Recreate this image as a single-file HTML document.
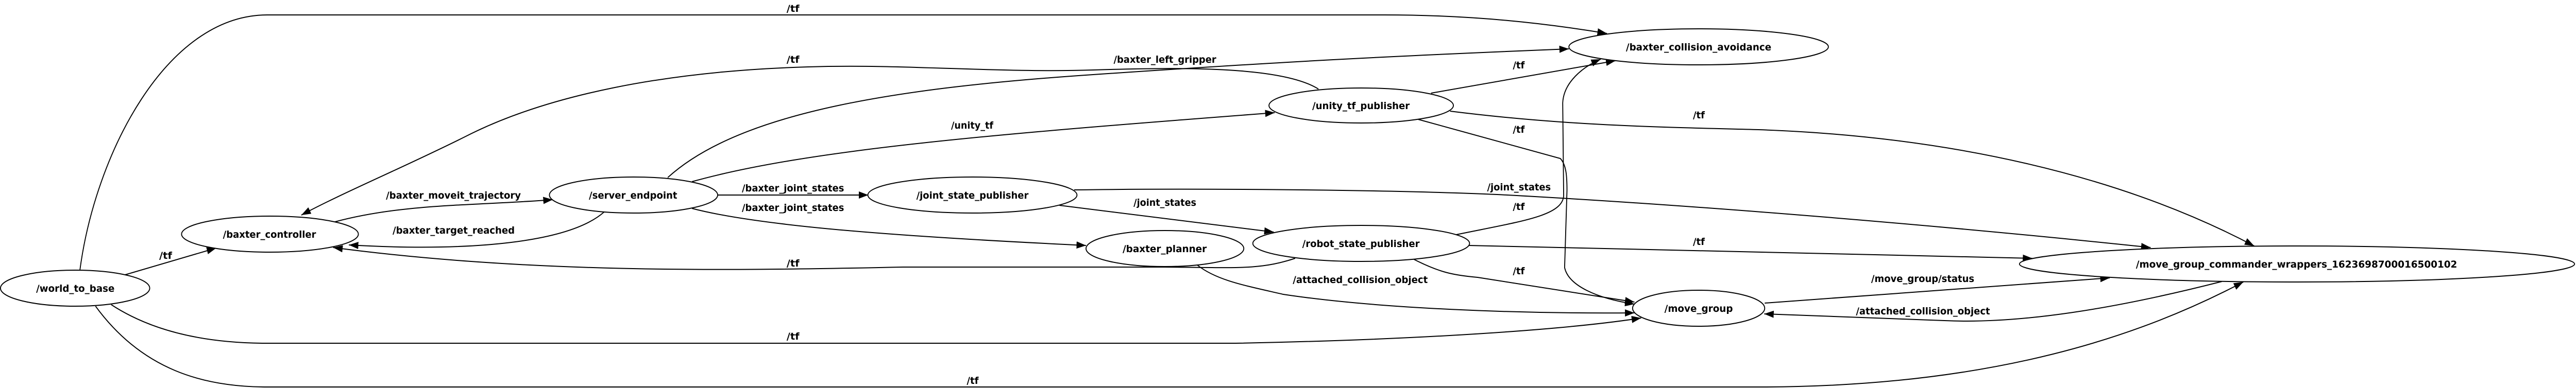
<!DOCTYPE html>
<html><head><meta charset="utf-8"><style>
html,body{margin:0;padding:0;background:#fff;overflow:hidden;width:100%;height:100%;}
svg{display:block;position:absolute;left:0;top:0;width:100vw;height:100vh;}
text{font-family:"DejaVu Sans","Liberation Sans",sans-serif;font-weight:bold;font-size:19px;fill:#000;}
</style></head><body>
<svg viewBox="0 0 5420 754" preserveAspectRatio="none" xmlns="http://www.w3.org/2000/svg">
<defs>
<marker id="a" markerUnits="userSpaceOnUse" markerWidth="22" markerHeight="14" refX="20" refY="7" orient="auto">
<path d="M0,0 L20,7 L0,14 z" fill="#000"/>
</marker>
</defs>
<g fill="none" stroke="#000" stroke-width="2" marker-end="url(#a)">
<path d="M168,526 C200,300 350,29 562,29 L2912,29 C3100,29 3250,45 3381,65"/>
<path d="M263,534 L455,482"/>
<path d="M234,592 C330,650 450,667 562,667 L2600,667 C3000,660 3300,640 3453,618"/>
<path d="M201,595 C300,720 430,752 562,752 L3700,752 C4200,752 4510,650 4720,548"/>
<path d="M705,431 C850,395 1000,400 1163,388"/>
<path d="M1271,412 C1200,470 1000,490 734,476"/>
<path d="M2725,502 C2650,525 2600,520 2450,519 L1900,519 C1500,527 1100,530 701,481"/>
<path d="M1405,345 C1560,215 1900,170 2300,145 S2900,110 3301,95"/>
<path d="M2774,173 C2700,130 2500,130 2300,136 C2100,142 1900,124 1700,130 C1400,138 1150,185 980,265 C850,325 720,375 634,418"/>
<path d="M1456,353 C1700,290 2100,260 2682,219"/>
<path d="M1510,379 L1827,379"/>
<path d="M1456,405 C1600,440 1900,460 2285,477"/>
<path d="M2229,399 L2680,451"/>
<path d="M2260,369 C2500,366 2900,368 3150,378 C3500,395 4000,430 4525,481"/>
<path d="M3011,181 L3399,118"/>
<path d="M3051,216 C3300,245 3500,247 3700,252 C4100,265 4460,340 4743,478"/>
<path d="M2984,232 L3283,308 C3295,320 3297,340 3297,370 L3292,520 C3300,555 3360,580 3439,591"/>
<path d="M3064,456 C3200,430 3288,420 3290,380 L3288,200 C3290,160 3330,130 3368,115"/>
<path d="M3091,477 L4276,502"/>
<path d="M2975,504 C3030,530 3060,535 3109,539 C3250,560 3360,575 3439,587"/>
<path d="M2519,515 C2560,545 2620,555 2700,572 C2900,600 3200,610 3439,608"/>
<path d="M3713,589 L4439,540"/>
<path d="M4675,547 C4450,600 4250,630 4091,623 L3712,610"/>
</g>
<g fill="#fff" stroke="#000" stroke-width="2">
<ellipse cx="158" cy="560" rx="157" ry="35"/>
<ellipse cx="568" cy="455" rx="186" ry="35"/>
<ellipse cx="1333" cy="379" rx="177" ry="35"/>
<ellipse cx="2046" cy="379" rx="220" ry="35"/>
<ellipse cx="2451" cy="483" rx="166" ry="35"/>
<ellipse cx="3574" cy="91" rx="273" ry="35"/>
<ellipse cx="2864" cy="205" rx="194" ry="34"/>
<ellipse cx="2864" cy="473" rx="228" ry="35"/>
<ellipse cx="3574" cy="599" rx="139" ry="35"/>
<ellipse cx="4833" cy="513" rx="584" ry="35"/>
</g>
<g>
<text x="76" y="567" textLength="165" lengthAdjust="spacingAndGlyphs">/world_to_base</text>
<text x="469" y="462" textLength="196" lengthAdjust="spacingAndGlyphs">/baxter_controller</text>
<text x="1239" y="386" textLength="186" lengthAdjust="spacingAndGlyphs">/server_endpoint</text>
<text x="1928" y="386" textLength="236" lengthAdjust="spacingAndGlyphs">/joint_state_publisher</text>
<text x="2362" y="490" textLength="177" lengthAdjust="spacingAndGlyphs">/baxter_planner</text>
<text x="3421" y="98" textLength="306" lengthAdjust="spacingAndGlyphs">/baxter_collision_avoidance</text>
<text x="2761" y="212" textLength="205" lengthAdjust="spacingAndGlyphs">/unity_tf_publisher</text>
<text x="2740" y="480" textLength="247" lengthAdjust="spacingAndGlyphs">/robot_state_publisher</text>
<text x="3502" y="606" textLength="144" lengthAdjust="spacingAndGlyphs">/move_group</text>
<text x="4494" y="520" textLength="676" lengthAdjust="spacingAndGlyphs">/move_group_commander_wrappers_1623698700016500102</text>

<text x="335" y="503" textLength="27" lengthAdjust="spacingAndGlyphs">/tf</text>
<text x="812" y="386" textLength="284" lengthAdjust="spacingAndGlyphs">/baxter_moveit_trajectory</text>
<text x="826" y="454" textLength="257" lengthAdjust="spacingAndGlyphs">/baxter_target_reached</text>
<text x="1655" y="23" textLength="27" lengthAdjust="spacingAndGlyphs">/tf</text>
<text x="1655" y="122" textLength="27" lengthAdjust="spacingAndGlyphs">/tf</text>
<text x="2343" y="122" textLength="216" lengthAdjust="spacingAndGlyphs">/baxter_left_gripper</text>
<text x="2001" y="250" textLength="89" lengthAdjust="spacingAndGlyphs">/unity_tf</text>
<text x="1561" y="372" textLength="215" lengthAdjust="spacingAndGlyphs">/baxter_joint_states</text>
<text x="1561" y="410" textLength="215" lengthAdjust="spacingAndGlyphs">/baxter_joint_states</text>
<text x="2385" y="400" textLength="132" lengthAdjust="spacingAndGlyphs">/joint_states</text>
<text x="1655" y="518" textLength="27" lengthAdjust="spacingAndGlyphs">/tf</text>
<text x="1655" y="660" textLength="27" lengthAdjust="spacingAndGlyphs">/tf</text>
<text x="2034" y="746" textLength="25" lengthAdjust="spacingAndGlyphs">/tf</text>
<text x="3183" y="133" textLength="25" lengthAdjust="spacingAndGlyphs">/tf</text>
<text x="3562" y="230" textLength="25" lengthAdjust="spacingAndGlyphs">/tf</text>
<text x="3183" y="258" textLength="25" lengthAdjust="spacingAndGlyphs">/tf</text>
<text x="3129" y="370" textLength="134" lengthAdjust="spacingAndGlyphs">/joint_states</text>
<text x="3183" y="408" textLength="25" lengthAdjust="spacingAndGlyphs">/tf</text>
<text x="3562" y="476" textLength="25" lengthAdjust="spacingAndGlyphs">/tf</text>
<text x="3183" y="533" textLength="25" lengthAdjust="spacingAndGlyphs">/tf</text>
<text x="2720" y="550" textLength="284" lengthAdjust="spacingAndGlyphs">/attached_collision_object</text>
<text x="3937" y="548" textLength="217" lengthAdjust="spacingAndGlyphs">/move_group/status</text>
<text x="3905" y="611" textLength="282" lengthAdjust="spacingAndGlyphs">/attached_collision_object</text>
</g>
</svg>
</body></html>
